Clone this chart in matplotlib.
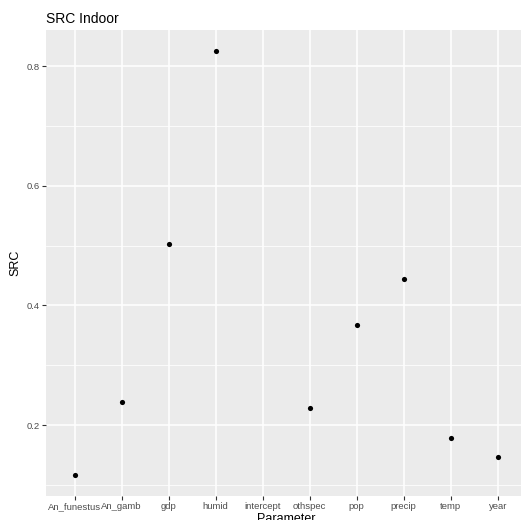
import matplotlib
matplotlib.use("Agg")
import matplotlib.pyplot as plt
import numpy as np

categories = ["An_funestus", "An_gamb", "gdp", "humid", "intercept",
              "othspec", "pop", "precip", "temp", "year"]
src_values = [0.117, 0.238, 0.503, 0.825, np.nan, 0.228, 0.368, 0.445, 0.178, 0.147]
y_ticks = [0.2, 0.4, 0.6, 0.8]
y_minor = [0.1, 0.3, 0.5, 0.7]

plt.rcParams['font.family'] = ['Liberation Sans', 'DejaVu Sans']

W, H = 521, 520
fig = plt.figure(figsize=(W / 100, H / 100), dpi=100)
left, right, top, bottom = 46.5, 526, 30, 496
ax = fig.add_axes([left / W, (H - bottom) / H, (right - left) / W, (bottom - top) / H])
ax.set_facecolor("#EBEBEB")
for s in ax.spines.values():
    s.set_visible(False)

x = np.arange(len(categories))
vals = np.array(src_values, dtype=float)
ymin, ymax = np.nanmin(vals), np.nanmax(vals)
pad = 0.05 * (ymax - ymin)
ax.set_ylim(ymin - pad, ymax + pad)
ax.set_xlim(-0.6, len(categories) - 1 + 0.6)

ax.set_yticks(y_ticks)
ax.set_yticks(y_minor, minor=True)
ax.set_xticks(x)
ax.set_xticklabels(categories)
ax.set_yticklabels([f"{v:.1f}" for v in y_ticks])

ax.grid(True, which="major", color="white", linewidth=1.1)
ax.grid(True, which="minor", axis="y", color="white", linewidth=0.55)
ax.set_axisbelow(True)

ax.tick_params(axis="both", which="major", length=2.8, width=0.8, color="#333333",
               labelcolor="#4D4D4D", labelsize=6.8, pad=1.8)
ax.tick_params(axis="y", which="minor", length=0)

ax.scatter(x, vals, s=14, color="black", zorder=3, linewidths=0)

ax.set_xlabel("Parameter", fontsize=9, color="black", labelpad=1.5)
ax.set_ylabel("SRC", fontsize=9, color="black", labelpad=4)
fig.text(left / W, 1 - 19 / H, "SRC Indoor", fontsize=10, ha="left", va="center")

fig.savefig("out.png", dpi=100)
